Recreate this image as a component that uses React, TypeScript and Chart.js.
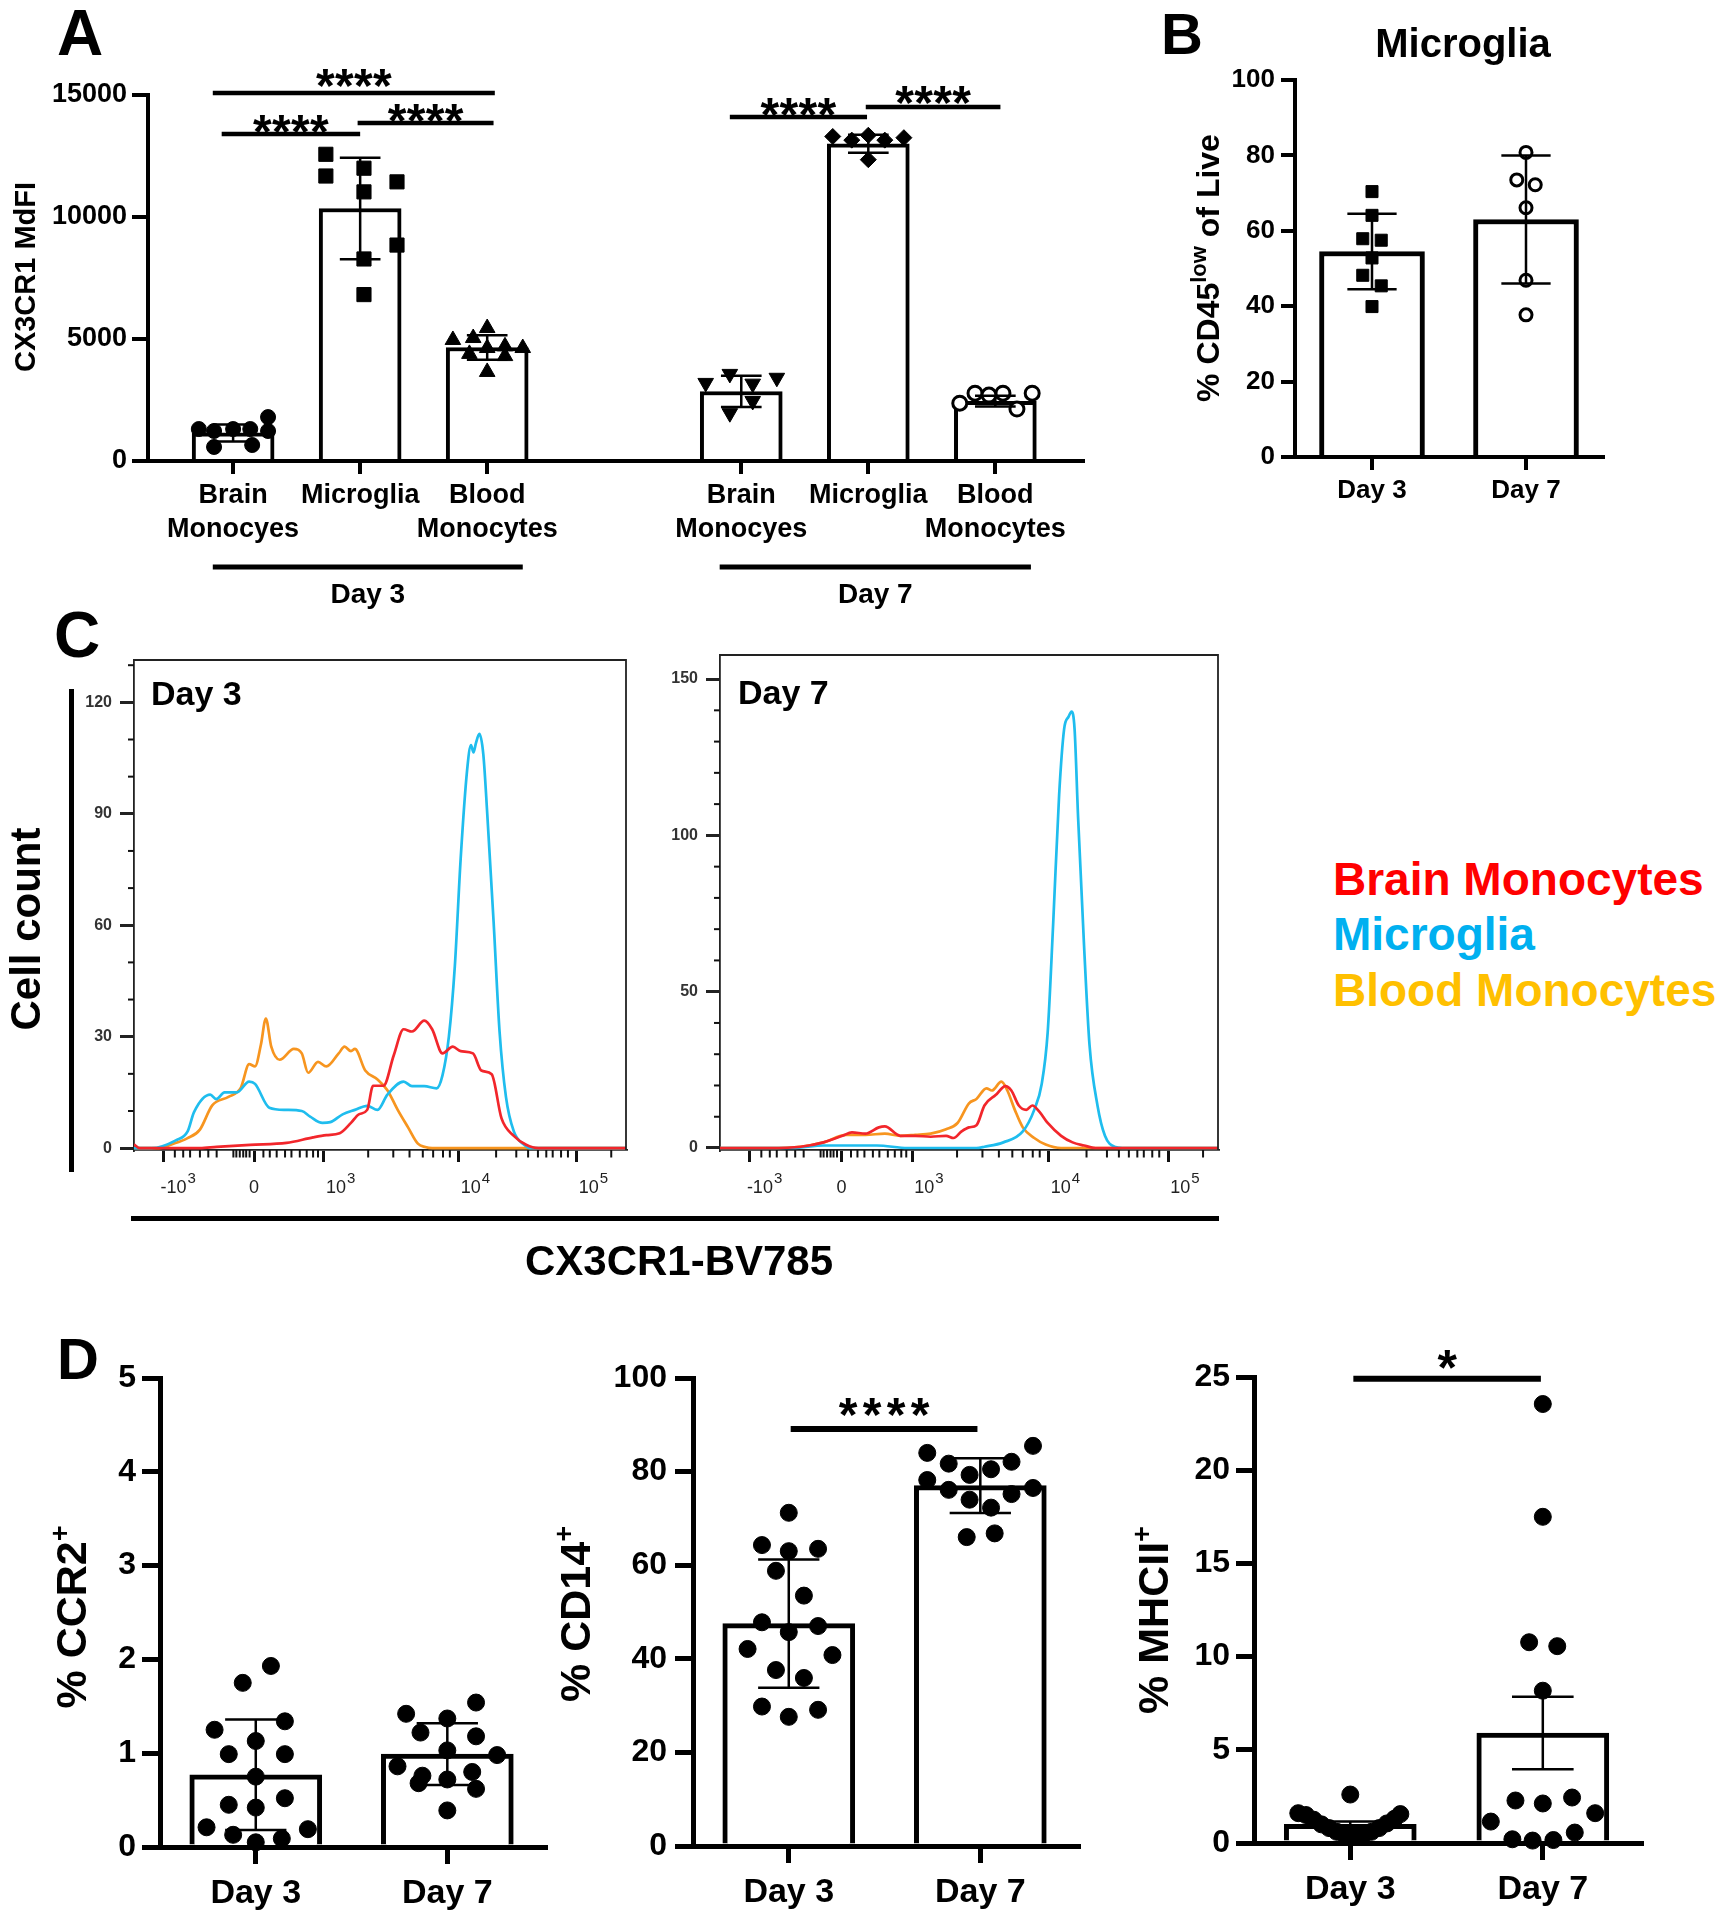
import React, { useEffect, useRef } from "react";
import { Chart, registerables } from "chart.js";

Chart.register(...registerables);

const FF = '"Liberation Sans", Arial, Helvetica, sans-serif';

/* ================= Panel A : CX3CR1 MdFI ================= */
const aTickLabels: (string | string[])[] = [
  ["Brain", "Monocyes"], "Microglia", ["Blood", "Monocytes"],
  ["Brain", "Monocyes"], "Microglia", ["Blood", "Monocytes"],
];
const aPositions = [0, 1, 2, 4, 5, 6];
const aYTicks = [0, 5000, 10000, 15000];
const aMeans = [1150, 10350, 4650, 2850, 13000, 2450];
const aSd = [350, 2080, 500, 640, 370, 220];
const aBrainD3 = [1310, 1230, 1310, 1310, 575, 655, 1800, 1230];
const aBrainD3Jit = [-0.27, -0.15, 0, 0.135, -0.15, 0.15, 0.275, 0.275];
const aMicroD3 = [12570, 11680, 12000, 11030, 11440, 8850, 8280, 6820];
const aMicroD3Jit = [-0.27, -0.27, 0.03, 0.03, 0.29, 0.29, 0.03, 0.03];
const aBloodD3 = [4960, 5040, 5450, 4700, 4630, 4390, 4630, 4300, 3650];
const aBloodD3Jit = [-0.27, -0.11, 0, 0.14, 0.28, -0.14, 0, 0.14, 0];
const aBrainD7 = [3200, 3570, 3170, 3410, 1960, 2460];
const aBrainD7Jit = [-0.28, -0.09, 0.09, 0.28, -0.09, 0.09];
const aMicroD7 = [13300, 13150, 13350, 13150, 13250, 12350];
const aMicroD7Jit = [-0.28, -0.13, 0, 0.13, 0.28, 0];
const aBloodD7 = [2370, 2780, 2700, 2780, 2130, 2780];
const aBloodD7Jit = [-0.28, -0.16, -0.05, 0.06, 0.17, 0.29];
const aSigY = [15080, 13400, 13850, 14100, 14510];
const aSigX1 = [-0.16, -0.09, 0.98, 3.91, 4.98];
const aSigX2 = [2.06, 1.0, 2.05, 4.99, 6.04];
const aSigText = ["****", "****", "****", "****", "****"];
const aGroupLabels = ["Day 3", "Day 7"];
const aGroupX1 = [-0.16, 3.83];
const aGroupX2 = [2.28, 6.28];

/* ================= Panel B : Microglia % CD45low ================= */
const dayLabels = ["Day 3", "Day 7"];
const dayPositions = [0, 1];
const bYTicks = [0, 20, 40, 60, 80, 100];
const bMeans = [54.5, 63];
const bSd = [10, 17];
const bDay3 = [70.4, 64.1, 57.9, 57.5, 52.8, 48.2, 45.4, 39.9];
const bDay3Jit = [0, 0, -0.06, 0.06, 0, -0.06, 0.06, 0];
const bDay7 = [80.8, 73.5, 72.2, 66.1, 46.9, 37.7];
const bDay7Jit = [0, -0.06, 0.06, 0, 0, 0];

/* ================= Panel C : histograms ================= */
const cXMajor = [60, 244, 386, 660, 900];
const cXLabelBase = ["-10", "0", "10", "10", "10"];
const cXLabelSup = ["3", "", "3", "4", "5"];
const cXMinor = [83, 100, 114, 134, 151, 168, 202, 208, 215, 222, 228, 235, 263, 276, 290, 307, 320, 337, 351, 364, 374,
  476, 527, 560, 587, 608, 628, 642, 736, 777, 801, 821, 838, 851, 868, 882, 970];
const c3YTicks = [0, 30, 60, 90, 120];
const c3YMinor = [10, 20, 40, 50, 70, 80, 100, 110, 130];
const c7YTicks = [0, 50, 100, 150];
const c7YMinor = [10, 20, 30, 40, 60, 70, 80, 90, 110, 120, 130, 140];

const day3Brain = [[0, 1], [12, 0], [134, 0], [168, 0.35], [236, 0.9], [310, 1.4], [364, 2.9], [391, 3.5], [418, 4],
  [441, 6.8], [457, 9.1], [474, 10.3], [486, 16.8], [507, 16.8], [528, 25], [548, 32], [565, 31.4], [590, 34.3],
  [606, 32], [627, 25.5], [648, 27.3], [664, 26.1], [689, 25.5], [706, 20.9], [727, 19.9], [747, 8], [772, 3.3],
  [797, 0.9], [822, 0], [1000, 0]];
const day3Microglia = [[0, 0], [35, 0], [85, 2.1], [109, 4.5], [122, 9.7], [155, 14.4], [167, 13.2], [184, 15],
  [209, 15], [234, 17.9], [246, 17.3], [275, 10.9], [308, 10.3], [341, 10], [358, 8.5], [383, 6.8], [399, 7],
  [424, 9.1], [449, 10.3], [474, 11.4], [495, 10.3], [515, 14.4], [548, 17.9], [565, 16.7], [590, 16.7],
  [615, 16.1], [627, 19.6], [640, 30], [652, 48.8], [664, 78], [677, 101.7], [685, 108.5], [690, 106.5],
  [695, 109], [702, 111.5], [710, 106], [718, 90], [731, 60.7], [743, 31.4], [756, 13.8], [772, 4.5],
  [793, 0.9], [805, 0], [1000, 0]];
const day3Blood = [[0, 0], [51, 0], [76, 1], [109, 2.7], [134, 5], [159, 11.5], [192, 13.8], [217, 16.2],
  [234, 22.6], [246, 22], [258, 27.9], [268, 34.9], [279, 27.3], [296, 23.8], [325, 26.7], [341, 25.5],
  [354, 20.3], [374, 23.2], [391, 22], [416, 25.5], [428, 27.3], [441, 26.1], [449, 26.7], [470, 20.9],
  [495, 18.5], [515, 15.6], [536, 10.3], [557, 5.6], [577, 1.2], [592, 0.3], [606, 0], [1000, 0]];
const day7Brain = [[0, 0], [100, 0], [162, 0.4], [208, 1.8], [246, 3.9], [265, 5], [292, 4.6], [319, 6.6],
  [331, 6.9], [362, 3.9], [392, 3.9], [423, 3.6], [454, 3.9], [469, 3.2], [485, 5.3], [500, 6.6], [515, 7.3],
  [531, 13.6], [554, 17], [573, 19.8], [585, 18.4], [600, 13.6], [615, 12.2], [627, 13.6], [642, 11.5],
  [658, 8], [685, 3.9], [708, 1.8], [731, 0.8], [754, 0], [1000, 0]];
const day7Microglia = [[0, 0], [146, 0], [208, 0.8], [315, 0.8], [377, 0], [515, 0], [531, 0.4], [569, 1.8],
  [608, 5.3], [631, 12.2], [646, 20.5], [658, 37], [669, 71.7], [681, 113], [691, 134], [700, 138],
  [706, 139.6], [712, 134], [719, 106], [731, 64.8], [742, 33], [758, 13.6], [773, 3.9], [792, 0.4],
  [808, 0], [1000, 0]];
const day7Blood = [[0, 0], [92, 0], [162, 0.4], [208, 1.8], [254, 4.2], [292, 4.2], [331, 4.6], [362, 3.9],
  [392, 4.2], [423, 4.6], [454, 6], [477, 8], [500, 14.3], [515, 15.7], [535, 19.1], [546, 18.4], [565, 21.2],
  [577, 18.4], [592, 12.2], [608, 6.6], [631, 3.2], [654, 1.1], [685, 0], [1000, 0]];
const legendNames = ["Brain Monocytes", "Microglia", "Blood Monocytes"];

/* ================= Panel D ================= */
const d1YTicks = [0, 1, 2, 3, 4, 5];
const d1Means = [0.77, 0.99];
const d1Sd = [0.59, 0.33];
const d1Day3 = [1.93, 1.75, 1.25, 1.34, 1.13, 0.99, 0.99, 0.75, 0.45, 0.52, 0.42, 0.21, 0.19, 0.13, 0.05, 0.09];
const d1Day3Jit = [0.079, -0.068, -0.215, 0.152, 0, -0.141, 0.152, 0, -0.141, 0.152, 0, -0.257, 0.272, -0.118, 0, 0.136];
const d1Day7 = [1.42, 1.37, 1.54, 1.22, 1.18, 1.03, 0.98, 0.86, 0.76, 0.8, 0.68, 0.72, 0.62, 0.39];
const d1Day7Jit = [-0.215, 0, 0.15, -0.14, 0.15, 0, 0.26, -0.26, -0.13, 0.13, -0.15, 0, 0.15, 0];

const d2YTicks = [0, 20, 40, 60, 80, 100];
const d2Means = [47.5, 77];
const d2Sd = [13.7, 5.85];
const d2Day3 = [71.2, 64.3, 63.0, 63.5, 58.8, 53.5, 47.8, 47.0, 45.7, 42.1, 40.8, 37.6, 35.9, 29.8, 29.1, 27.6];
const d2Day3Jit = [0, -0.14, 0, 0.153, -0.067, 0.079, -0.14, 0.153, 0, -0.215, 0.228, -0.067, 0.079, -0.14, 0.153, 0];
const d2Day7 = [85.5, 84.0, 81.7, 82.1, 80.5, 79.3, 78.2, 76.5, 76.1, 75.2, 74.0, 72.3, 66.0, 66.8];
const d2Day7Jit = [0.275, -0.277, -0.165, 0.163, 0.056, -0.056, -0.277, 0.275, -0.165, 0.163, -0.056, 0.056, -0.071, 0.075];

const d3YTicks = [0, 5, 10, 15, 20, 25];
const d3Means = [1.0, 5.9];
const d3Sd = [0.15, 1.95];
const d3Day3 = [1.6, 1.5, 1.25, 1.0, 0.8, 0.6, 0.45, 0.4, 0.4, 0.45, 0.6, 0.8, 1.05, 1.3, 1.55, 2.6];
const d3Day3Jit = [-0.27, -0.23, -0.19, -0.15, -0.11, -0.07, -0.03, 0, 0.03, 0.07, 0.11, 0.15, 0.19, 0.23, 0.26, 0];
const d3Day7 = [23.55, 17.5, 10.77, 10.56, 8.17, 2.44, 2.28, 2.12, 1.15, 1.6, 0.56, 0.2, 0.13, 0.16];
const d3Day7Jit = [0, 0, -0.071, 0.075, 0, 0.152, -0.142, 0, -0.27, 0.272, 0.166, -0.158, -0.053, 0.055];

/* ================= helpers ================= */
type Seg = { t: string; size: number; dy?: number; weight?: string };

function drawRich(ctx: CanvasRenderingContext2D, segs: Seg[], ox: number, oy: number, rotate: boolean, color = "#000") {
  ctx.save();
  ctx.translate(ox, oy);
  if (rotate) ctx.rotate(-Math.PI / 2);
  ctx.textAlign = "left";
  ctx.textBaseline = "alphabetic";
  ctx.fillStyle = color;
  const ws = segs.map((s) => {
    ctx.font = `${s.weight ?? "bold"} ${s.size}px ${FF}`;
    return ctx.measureText(s.t).width;
  });
  const total = ws.reduce((a, b) => a + b, 0);
  let x = -total / 2;
  segs.forEach((s, i) => {
    ctx.font = `${s.weight ?? "bold"} ${s.size}px ${FF}`;
    ctx.fillText(s.t, x, s.dy ?? 0);
    x += ws[i];
  });
  ctx.restore();
}

function drawStars(ctx: CanvasRenderingContext2D, text: string, cx: number, cy: number, size: number, spacing: number) {
  ctx.save();
  ctx.font = `bold ${size}px ${FF}`;
  ctx.textAlign = "center";
  ctx.textBaseline = "alphabetic";
  ctx.fillStyle = "#000";
  const m = ctx.measureText("*");
  const base = cy + (m.actualBoundingBoxAscent - m.actualBoundingBoxDescent) / 2;
  const n = text.length;
  for (let i = 0; i < n; i++) ctx.fillText(text[i], cx + (i - (n - 1) / 2) * spacing, base);
  ctx.restore();
}

function makeBarChart(el: HTMLCanvasElement, p: any) {
  const cv = p.canvas, area = p.area;
  const WY = area.l - cv.x;
  const HX = cv.y + cv.h - area.b;
  const datasets: any[] = [];
  const err: any[] = [];
  p.positions.forEach((x: number, i: number) => {
    const lo = p.means[i] - p.sds[i], hi = p.means[i] + p.sds[i];
    err.push({ x, y: lo }, { x, y: hi }, { x, y: null },
      { x: x - p.capHalf, y: hi }, { x: x + p.capHalf, y: hi }, { x, y: null },
      { x: x - p.capHalf, y: lo }, { x: x + p.capHalf, y: lo }, { x, y: null });
  });
  datasets.push({ type: "line", data: err, borderColor: "#000", borderWidth: p.errW, pointRadius: 0,
    spanGaps: false, clip: false, order: 0, tension: 0, fill: false, borderCapStyle: "butt" });
  if (p.sig) {
    const s: any[] = [];
    p.sig.y.forEach((y: number, i: number) => {
      s.push({ x: p.sig.x1[i], y }, { x: p.sig.x2[i], y }, { x: p.sig.x2[i], y: null });
    });
    datasets.push({ type: "line", data: s, borderColor: "#000", borderWidth: p.sig.width, pointRadius: 0,
      spanGaps: false, clip: false, order: 0, tension: 0, fill: false, borderCapStyle: "butt" });
  }
  p.groups.forEach((g: any, i: number) => {
    datasets.push({
      type: "scatter",
      data: g.vals.map((v: number, k: number) => ({ x: p.positions[i] + g.jit[k], y: v })),
      pointStyle: g.style, pointRadius: g.r, pointRotation: g.rot ?? 0,
      pointBackgroundColor: g.open ? "#fff" : "#000", pointBorderColor: "#000",
      pointBorderWidth: g.bw ?? 1, showLine: false, clip: false, order: 1,
    });
  });
  datasets.push({
    type: "bar",
    data: p.positions.map((x: number, i: number) => ({ x, y: p.means[i] })),
    backgroundColor: "#fff", borderColor: "#000", borderWidth: p.barBorder,
    barThickness: p.barThickness, order: 3,
  });

  return new Chart(el, {
    type: "bar",
    data: { datasets },
    options: {
      responsive: false, animation: false, devicePixelRatio: 1, events: [],
      layout: { padding: { left: 0, top: area.t - cv.y, right: cv.x + cv.w - area.r, bottom: 0 } },
      plugins: { legend: { display: false }, tooltip: { enabled: false } },
      scales: {
        x: {
          type: "linear", min: p.xMin, max: p.xMax, offset: false, z: 1,
          afterBuildTicks: (s: any) => { s.ticks = p.positions.map((v: number) => ({ value: v })); },
          afterFit: (s: any) => { s.height = HX; },
          border: { display: true, color: "#000", width: p.axisW },
          grid: { display: true, drawOnChartArea: false, drawTicks: true, tickLength: p.xTickLen,
            tickWidth: p.axisW, lineWidth: p.axisW, tickColor: "#000", color: "#000", offset: false },
          ticks: {
            autoSkip: false, maxRotation: 0, minRotation: 0, padding: p.xTickPad, color: "#000",
            font: { family: FF, size: p.xFont, weight: "bold", lineHeight: p.xLineHeight },
            callback: (v: any) => { const i = p.positions.indexOf(v); return i >= 0 ? p.tickLabels[i] : ""; },
          },
        },
        y: {
          type: "linear", min: p.yMin, max: p.yMax,
          afterBuildTicks: (s: any) => { s.ticks = p.yTicks.map((v: number) => ({ value: v })); },
          afterFit: (s: any) => { s.width = WY; },
          border: { display: true, color: "#000", width: p.axisW },
          grid: { display: true, drawOnChartArea: false, drawTicks: true, tickLength: p.yTickLen,
            tickWidth: p.axisW, lineWidth: p.axisW, tickColor: "#000", color: "#000" },
          ticks: { padding: p.yTickPad, color: "#000", font: { family: FF, size: p.yFont, weight: "bold" },
            callback: (v: any) => String(v) },
        },
      },
    } as any,
    plugins: [{
      id: "extras",
      afterDraw(chart: any) {
        const ctx = chart.ctx as CanvasRenderingContext2D;
        const xs = chart.scales.x, ys = chart.scales.y;
        if (p.sig) {
          p.sig.y.forEach((y: number, i: number) => {
            const cx = xs.getPixelForValue((p.sig.x1[i] + p.sig.x2[i]) / 2);
            const cy = ys.getPixelForValue(y) + p.sig.offset[i];
            drawStars(ctx, p.sig.text[i], cx, cy, p.sig.size, p.sig.spacing);
          });
        }
        if (p.extra) p.extra(ctx, xs, ys, cv.x, cv.y);
      },
    }],
  });
}

function makeHistChart(el: HTMLCanvasElement, p: any) {
  const cv = p.canvas, area = p.area;
  const WY = area.l - cv.x;
  const HX = cv.y + cv.h - area.b;
  const datasets = p.series.map((s: any, i: number) => ({
    type: "line",
    data: s.data.map((d: number[]) => ({ x: d[0], y: d[1] })),
    borderColor: s.color, borderWidth: 2.7, pointRadius: 0, fill: false,
    cubicInterpolationMode: "monotone", order: i,
  }));
  return new Chart(el, {
    type: "line",
    data: { datasets },
    options: {
      responsive: false, animation: false, devicePixelRatio: 1, events: [],
      layout: { padding: { left: 0, top: area.t - cv.y, right: cv.x + cv.w - area.r, bottom: 0 } },
      plugins: { legend: { display: false }, tooltip: { enabled: false } },
      scales: {
        x: {
          type: "linear", min: 0, max: 1000, offset: false,
          afterBuildTicks: (s: any) => { s.ticks = cXMajor.map((v) => ({ value: v })); },
          afterFit: (s: any) => { s.height = HX; },
          border: { display: true, color: "#222", width: 1.8 },
          grid: { display: true, drawOnChartArea: false, drawTicks: true, tickLength: 12, tickWidth: 3,
            lineWidth: 3, tickColor: "#111", color: "#111" },
          ticks: { autoSkip: false, maxRotation: 0, padding: 4, font: { family: FF, size: 14 }, callback: () => "" },
        },
        y: {
          type: "linear", min: p.yMin, max: p.yMax,
          afterBuildTicks: (s: any) => { s.ticks = p.yTicks.map((v: number) => ({ value: v })); },
          afterFit: (s: any) => { s.width = WY; },
          border: { display: true, color: "#222", width: 1.8 },
          grid: { display: true, drawOnChartArea: false, drawTicks: true, tickLength: 14, tickWidth: 3,
            lineWidth: 3, tickColor: "#222", color: "#222" },
          ticks: { padding: 8, color: "#333", font: { family: FF, size: 16, weight: "bold" }, callback: (v: any) => String(v) },
        },
      },
    } as any,
    plugins: [{
      id: "histExtras",
      afterDraw(chart: any) {
        const ctx = chart.ctx as CanvasRenderingContext2D;
        const xs = chart.scales.x, ys = chart.scales.y, ca = chart.chartArea;
        ctx.save();
        ctx.strokeStyle = "#222";
        ctx.lineWidth = 1.8;
        ctx.beginPath();
        ctx.moveTo(ca.left, ca.top); ctx.lineTo(ca.right, ca.top); ctx.lineTo(ca.right, ca.bottom);
        ctx.stroke();
        ctx.strokeStyle = "#111";
        ctx.lineWidth = 2;
        cXMinor.forEach((v) => {
          const px = xs.getPixelForValue(v);
          ctx.beginPath(); ctx.moveTo(px, ca.bottom); ctx.lineTo(px, ca.bottom + 7.5); ctx.stroke();
        });
        p.yMinor.forEach((v: number) => {
          const py = ys.getPixelForValue(v);
          ctx.beginPath(); ctx.moveTo(ca.left - 6, py); ctx.lineTo(ca.left, py); ctx.stroke();
        });
        ctx.fillStyle = "#222";
        ctx.textBaseline = "alphabetic";
        const baseY = ca.bottom + 43;
        cXMajor.forEach((v, i) => {
          const px = xs.getPixelForValue(v);
          ctx.font = `18px ${FF}`;
          if (!cXLabelSup[i]) {
            ctx.textAlign = "center";
            ctx.fillText(cXLabelBase[i], px, baseY);
          } else {
            ctx.textAlign = "left";
            const x0 = px + (cXLabelBase[i].startsWith("-") ? -3 : 2);
            ctx.fillText(cXLabelBase[i], x0, baseY);
            const w = ctx.measureText(cXLabelBase[i]).width;
            ctx.font = `15px ${FF}`;
            ctx.fillText(cXLabelSup[i], x0 + w + 1, baseY - 10);
          }
        });
        ctx.font = `bold 34px ${FF}`;
        ctx.fillStyle = "#000";
        ctx.textAlign = "left";
        ctx.fillText(p.dayLabel, p.dayX - cv.x, p.dayBase - cv.y);
        ctx.restore();
      },
    }],
  });
}

/* ================= panel specs ================= */
const panelA = {
  canvas: { x: 0, y: 0, w: 1150, h: 620 }, area: { l: 148, t: 95, r: 1083, b: 461 },
  xMin: -0.67, xMax: 6.69, yMin: 0, yMax: 15000, yTicks: aYTicks,
  positions: aPositions, tickLabels: aTickLabels, means: aMeans, sds: aSd,
  groups: [
    { vals: aBrainD3, jit: aBrainD3Jit, style: "circle", r: 7.5 },
    { vals: aMicroD3, jit: aMicroD3Jit, style: "rect", r: 10 },
    { vals: aBloodD3, jit: aBloodD3Jit, style: "triangle", r: 9 },
    { vals: aBrainD7, jit: aBrainD7Jit, style: "triangle", r: 9, rot: 180 },
    { vals: aMicroD7, jit: aMicroD7Jit, style: "rectRot", r: 8 },
    { vals: aBloodD7, jit: aBloodD7Jit, style: "circle", r: 7, open: true, bw: 3 },
  ],
  barThickness: 82, barBorder: 4, axisW: 4, errW: 2.5, capHalf: 0.16,
  yTickLen: 16, yTickPad: 5, yFont: 27, xTickLen: 13, xTickPad: 5, xFont: 27, xLineHeight: 1.26,
  sig: { x1: aSigX1, x2: aSigX2, y: aSigY, text: aSigText, width: 4.5, size: 48, spacing: 19,
    offset: [-15, -10.5, -10.5, -10, -11.5] },
  extra: (ctx: CanvasRenderingContext2D, xs: any, ys: any, ox: number, oy: number) => {
    drawRich(ctx, [{ t: "CX3CR1 MdFI", size: 29 }], 35 - ox, 277 - oy, true);
    aGroupLabels.forEach((lab, i) => {
      const x1 = xs.getPixelForValue(aGroupX1[i]), x2 = xs.getPixelForValue(aGroupX2[i]);
      ctx.fillStyle = "#000";
      ctx.fillRect(x1, 567 - oy - 2.5, x2 - x1, 5);
      drawRich(ctx, [{ t: lab, size: 28 }], (x1 + x2) / 2, 603 - oy, false);
    });
  },
};

const panelB = {
  canvas: { x: 1150, y: 0, w: 577, h: 530 }, area: { l: 1295, t: 80, r: 1603, b: 457 },
  xMin: -0.5, xMax: 1.5, yMin: 0, yMax: 100, yTicks: bYTicks,
  positions: dayPositions, tickLabels: dayLabels, means: bMeans, sds: bSd,
  groups: [
    { vals: bDay3, jit: bDay3Jit, style: "rect", r: 8.5 },
    { vals: bDay7, jit: bDay7Jit, style: "circle", r: 6, open: true, bw: 3 },
  ],
  barThickness: 105, barBorder: 5, axisW: 4, errW: 2.5, capHalf: 0.16,
  yTickLen: 14, yTickPad: 6, yFont: 26, xTickLen: 13, xTickPad: 5, xFont: 26, xLineHeight: 1.2,
  extra: (ctx: CanvasRenderingContext2D, xs: any, ys: any, ox: number, oy: number) => {
    drawRich(ctx, [{ t: "Microglia", size: 40 }], 1463 - ox, 57 - oy, false);
    drawRich(ctx, [{ t: "% CD45", size: 32 }, { t: "low", size: 22, dy: -13 }, { t: " of Live", size: 32 }],
      1219 - ox, 268 - oy, true);
  },
};

const dCommon = {
  xMin: -0.5, xMax: 1.51, yMin: 0, positions: dayPositions, tickLabels: dayLabels,
  barThickness: 132, barBorder: 5, axisW: 5, errW: 2.5, capHalf: 0.16,
  yTickLen: 18, yFont: 32, xTickLen: 17, xTickPad: 9, xFont: 34, xLineHeight: 1.2,
};

const panelD1 = {
  ...dCommon,
  canvas: { x: 0, y: 1320, w: 560, h: 600 }, area: { l: 160, t: 1378, r: 545, b: 1847 },
  yMax: 5, yTicks: d1YTicks, means: d1Means, sds: d1Sd, yTickPad: 6,
  groups: [
    { vals: d1Day3, jit: d1Day3Jit, style: "circle", r: 8.5 },
    { vals: d1Day7, jit: d1Day7Jit, style: "circle", r: 8.5 },
  ],
  extra: (ctx: CanvasRenderingContext2D, xs: any, ys: any, ox: number, oy: number) => {
    drawRich(ctx, [{ t: "% CCR2", size: 43 }, { t: "+", size: 27, dy: -17 }], 86 - ox, 1617 - oy, true);
  },
};

const panelD2 = {
  ...dCommon,
  canvas: { x: 540, y: 1320, w: 580, h: 600 }, area: { l: 693, t: 1378, r: 1078, b: 1846 },
  yMax: 100, yTicks: d2YTicks, means: d2Means, sds: d2Sd, yTickPad: 8,
  groups: [
    { vals: d2Day3, jit: d2Day3Jit, style: "circle", r: 8.5 },
    { vals: d2Day7, jit: d2Day7Jit, style: "circle", r: 8.5 },
  ],
  sig: { x1: [0.01], x2: [0.985], y: [89.1], text: ["****"], width: 6, size: 48, spacing: 24, offset: [-22] },
  extra: (ctx: CanvasRenderingContext2D, xs: any, ys: any, ox: number, oy: number) => {
    drawRich(ctx, [{ t: "% CD14", size: 43 }, { t: "+", size: 27, dy: -17 }], 590 - ox, 1614 - oy, true);
  },
};

const panelD3 = {
  ...dCommon,
  canvas: { x: 1120, y: 1320, w: 607, h: 600 }, area: { l: 1254, t: 1377, r: 1641, b: 1843 },
  yMax: 25, yTicks: d3YTicks, means: d3Means, sds: d3Sd, yTickPad: 6,
  groups: [
    { vals: d3Day3, jit: d3Day3Jit, style: "circle", r: 8.5 },
    { vals: d3Day7, jit: d3Day7Jit, style: "circle", r: 8.5 },
  ],
  sig: { x1: [0.016], x2: [0.99], y: [24.9], text: ["*"], width: 6, size: 50, spacing: 24, offset: [-19.5] },
  extra: (ctx: CanvasRenderingContext2D, xs: any, ys: any, ox: number, oy: number) => {
    drawRich(ctx, [{ t: "% MHCII", size: 43 }, { t: "+", size: 27, dy: -17 }], 1168 - ox, 1620 - oy, true);
  },
};

const RED = "#F2262B", CYAN = "#1FBDEE", ORANGE = "#F7951F";
const panelC3 = {
  canvas: { x: 0, y: 600, w: 660, h: 640 }, area: { l: 134, t: 660, r: 626, b: 1150 },
  yMin: -0.5, yMax: 131.4, yTicks: c3YTicks, yMinor: c3YMinor,
  series: [{ data: day3Brain, color: RED }, { data: day3Microglia, color: CYAN }, { data: day3Blood, color: ORANGE }],
  dayLabel: "Day 3", dayX: 151, dayBase: 705,
};
const panelC7 = {
  canvas: { x: 640, y: 600, w: 620, h: 640 }, area: { l: 720, t: 655, r: 1218, b: 1150 },
  yMin: -0.64, yMax: 157.7, yTicks: c7YTicks, yMinor: c7YMinor,
  series: [{ data: day7Brain, color: RED }, { data: day7Microglia, color: CYAN }, { data: day7Blood, color: ORANGE }],
  dayLabel: "Day 7", dayX: 738, dayBase: 704,
};

/* ================= components ================= */
function ChartCanvas({ rect, make }: { rect: any; make: (el: HTMLCanvasElement) => Chart }) {
  const ref = useRef<HTMLCanvasElement | null>(null);
  useEffect(() => {
    const ch = make(ref.current as HTMLCanvasElement);
    return () => ch.destroy();
  }, []);
  return (
    <canvas ref={ref} width={rect.w} height={rect.h}
      style={{ position: "absolute", left: rect.x, top: rect.y, width: rect.w, height: rect.h }} />
  );
}

function HT({ x, base, size, children, color = "#000", align = "left" }: any) {
  const style: any = {
    position: "absolute", top: base - 0.8465 * size, fontFamily: FF, fontSize: size, fontWeight: 700,
    lineHeight: `${size}px`, color, whiteSpace: "nowrap",
  };
  if (align === "center") { style.left = x - 500; style.width = 1000; style.textAlign = "center"; }
  else style.left = x;
  return <div style={style}>{children}</div>;
}

export default function App() {
  const legendColors = ["#FF0000", "#00B0F0", "#FFC000"];
  const legendBase = [895, 950, 1006];
  return (
    <div style={{ position: "absolute", left: 0, top: 0, width: 1727, height: 1920, background: "#fff", overflow: "hidden", fontFamily: FF }}>
      <ChartCanvas rect={panelA.canvas} make={(el) => makeBarChart(el, panelA)} />
      <ChartCanvas rect={panelB.canvas} make={(el) => makeBarChart(el, panelB)} />
      <ChartCanvas rect={panelC3.canvas} make={(el) => makeHistChart(el, panelC3)} />
      <ChartCanvas rect={panelC7.canvas} make={(el) => makeHistChart(el, panelC7)} />
      <ChartCanvas rect={panelD1.canvas} make={(el) => makeBarChart(el, panelD1)} />
      <ChartCanvas rect={panelD2.canvas} make={(el) => makeBarChart(el, panelD2)} />
      <ChartCanvas rect={panelD3.canvas} make={(el) => makeBarChart(el, panelD3)} />

      <HT x={57} base={55} size={64}>A</HT>
      <HT x={1161} base={54} size={58}>B</HT>
      <HT x={54} base={657} size={64}>C</HT>
      <HT x={57} base={1379} size={58}>D</HT>

      {/* Panel C axis title bars */}
      <div style={{ position: "absolute", left: 69, top: 689, width: 5, height: 483, background: "#000" }} />
      <div style={{ position: "absolute", left: 131, top: 1216, width: 1088, height: 5, background: "#000" }} />
      <div style={{
        position: "absolute", left: 26 - 200, top: 929 - 21, width: 400, height: 42, lineHeight: "42px",
        fontSize: 42, fontWeight: 700, textAlign: "center", transform: "rotate(-90deg)", fontFamily: FF,
      }}>Cell count</div>
      <HT x={679} base={1276} size={42} align="center">CX3CR1-BV785</HT>

      {legendNames.map((n, i) => (
        <HT key={n} x={1333} base={legendBase[i]} size={46} color={legendColors[i]}>{n}</HT>
      ))}
    </div>
  );
}
